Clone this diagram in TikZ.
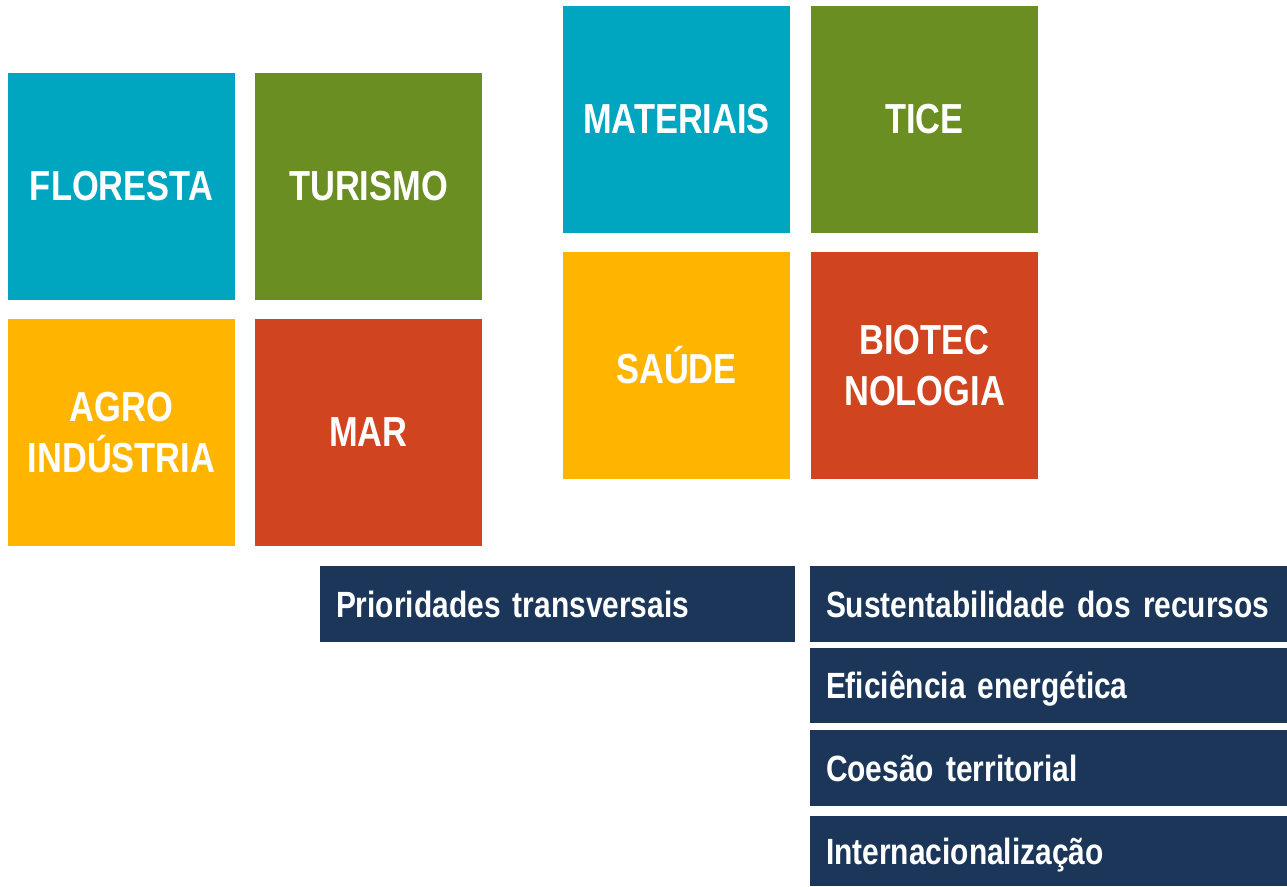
\documentclass[tikz,border=0pt]{standalone}
\usepackage{fontspec}
\setmainfont{Liberation Sans}
\newfontfamily\boxfont{Liberation Sans}[FakeStretch=0.82]
\definecolor{cteal}{RGB}{0,165,192}
\definecolor{cgreen}{RGB}{106,142,34}
\definecolor{cyellow}{RGB}{255,181,0}
\definecolor{cred}{RGB}{208,69,32}
\definecolor{cnavy}{RGB}{27,54,88}
\begin{document}
\begin{tikzpicture}[x=1pt,y=-1pt,
  tile/.style={fill=#1, minimum width=227pt, minimum height=227pt, inner sep=0pt,
    text=white, align=center, font=\boxfont\bfseries\fontsize{42}{51}\selectfont},
  bar/.style={fill=cnavy, text=white, align=left, inner xsep=16pt, inner ysep=0pt,
    text height=26pt, text depth=0pt,
    font=\boxfont\bfseries\fontsize{36.5}{44}\selectfont}]
\useasboundingbox (0,0) rectangle (1287,886);
\node[tile=cteal]   (floresta)  at (121.5,186.5) {FLORESTA};
\node[tile=cgreen]  (turismo)   at (368.5,186.5) {TURISMO};
\node[tile=cyellow] (agro)      at (121.5,432.5) {AGRO\\INDÚSTRIA};
\node[tile=cred]    (mar)       at (368.5,432.5) {MAR};
\node[tile=cteal]   (materiais) at (676.5,119.5) {MATERIAIS};
\node[tile=cgreen]  (tice)      at (924.5,119.5) {TICE};
\node[tile=cyellow] (saude)     at (676.5,365.5) {SAÚDE};
\node[tile=cred]    (biotec)    at (924.5,365.5) {BIOTEC\\NOLOGIA};
\node[bar, text width=443pt, minimum height=76pt] (prio) at (557.5,604) {Prioridades transversais};
\node[bar, text width=445pt, minimum height=76pt] (sust) at (1048.5,604) {Sustentabilidade dos recursos};
\node[bar, text width=445pt, minimum height=75pt] (efic) at (1048.5,685.5) {Eficiência energética};
\node[bar, text width=445pt, minimum height=76pt] (coes) at (1048.5,768) {Coesão territorial};
\node[bar, text width=445pt, minimum height=70pt] (inter) at (1048.5,851) {Internacionalização};
\end{tikzpicture}
\end{document}
